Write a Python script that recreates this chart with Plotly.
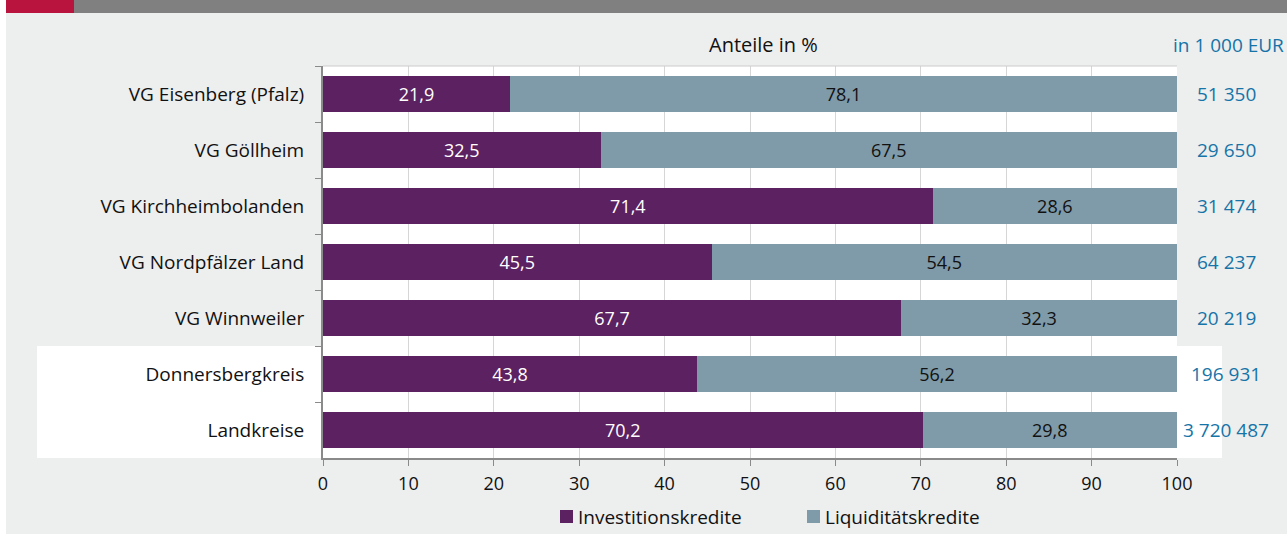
import plotly.graph_objects as go

# Data
categories = ["VG Eisenberg (Pfalz)", "VG Göllheim", "VG Kirchheimbolanden",
              "VG Nordpfälzer Land", "VG Winnweiler", "Donnersbergkreis", "Landkreise"]
series_names = ["Investitionskredite", "Liquiditätskredite"]
investitionskredite = [21.9, 32.5, 71.4, 45.5, 67.7, 43.8, 70.2]
liquiditaetskredite = [78.1, 67.5, 28.6, 54.5, 32.3, 56.2, 29.8]
totals_teur = ["51 350", "29 650", "31 474", "64 237", "20 219", "196 931", "3 720 487"]
x_ticks = [0, 10, 20, 30, 40, 50, 60, 70, 80, 90, 100]

FONT = "Open Sans"
TXT = "#111111"
PURPLE = "#5B2160"
GREYBLUE = "#7F9AA8"
BLUE_TXT = "#1574A8"
BG = "#EDEEEE"

# Figure geometry (pixels)
W, H = 1287, 534
L, R, T, B = 323, 1177, 66, 458


def px(x):
    return (x - L) / (R - L)


def py(y):
    return (B - y) / (B - T)


def fmt(v):
    return f"{v:.1f}".replace(".", ",")


fig = go.Figure()
fig.add_trace(go.Bar(
    y=categories, x=investitionskredite, orientation="h", name=series_names[0],
    marker=dict(color=PURPLE, line=dict(width=0)),
    text=[fmt(v) for v in investitionskredite], textposition="inside",
    insidetextanchor="middle", textfont=dict(color="white", size=18, family=FONT),
    hoverinfo="skip", showlegend=False,
))
fig.add_trace(go.Bar(
    y=categories, x=liquiditaetskredite, orientation="h", name=series_names[1],
    marker=dict(color=GREYBLUE, line=dict(width=0)),
    text=[fmt(v) for v in liquiditaetskredite], textposition="inside",
    insidetextanchor="middle", textfont=dict(color=TXT, size=18, family=FONT),
    hoverinfo="skip", showlegend=False,
))

shapes = [
    # white strip at the left edge
    dict(type="rect", xref="paper", yref="paper", x0=px(0), x1=px(6), y0=py(H + 20), y1=py(0),
         fillcolor="white", line=dict(width=0), layer="below"),
    # header bars
    dict(type="rect", xref="paper", yref="paper", x0=px(6), x1=px(74), y0=py(13), y1=py(-5),
         fillcolor="#B8143E", line=dict(width=0), layer="below"),
    dict(type="rect", xref="paper", yref="paper", x0=px(74), x1=px(W + 10), y0=py(13), y1=py(-5),
         fillcolor="#808080", line=dict(width=0), layer="below"),
    # white highlight behind the two county rows
    dict(type="rect", xref="paper", yref="paper", x0=px(37), x1=px(1222), y0=py(458), y1=py(346),
         fillcolor="white", line=dict(width=0), layer="below"),
    # thin top border of the plot area
    dict(type="line", xref="paper", yref="paper", x0=0, x1=1, y0=1, y1=1,
         line=dict(color="#CCCCCC", width=1)),
]

annotations = [
    dict(text="Anteile in %", xref="paper", yref="paper", x=px(763), y=py(45),
         showarrow=False, font=dict(size=20, color=TXT, family=FONT),
         xanchor="center", yanchor="middle"),
    dict(text="in 1 000 EUR", xref="paper", yref="paper", x=px(1286), y=py(45),
         showarrow=False, font=dict(size=19, color=BLUE_TXT, family=FONT),
         xanchor="right", yanchor="middle"),
]
for cat, tot in zip(categories, totals_teur):
    annotations.append(dict(text=tot, xref="paper", yref="y", x=px(1226), y=cat,
                            showarrow=False, font=dict(size=19, color=BLUE_TXT, family=FONT),
                            xanchor="center", yanchor="middle"))

# legend: colour square followed by the series name
legend_items = [(series_names[0], PURPLE, 560), (series_names[1], GREYBLUE, 807)]
for name, color, x0 in legend_items:
    shapes.append(dict(type="rect", xref="paper", yref="paper",
                       x0=px(x0), x1=px(x0 + 13), y0=py(523), y1=py(510),
                       fillcolor=color, line=dict(width=0)))
    annotations.append(dict(text=name, xref="paper", yref="paper", x=px(x0 + 16), y=py(517),
                            showarrow=False, font=dict(size=19, color=TXT, family=FONT),
                            xanchor="left", yanchor="middle"))

fig.update_layout(
    width=W, height=H,
    margin=dict(l=L, r=W - R, t=T, b=H - B, pad=0, autoexpand=False),
    paper_bgcolor=BG, plot_bgcolor="white",
    barmode="stack", bargap=0.34,
    font=dict(family=FONT, size=18, color=TXT),
    shapes=shapes, annotations=annotations,
    showlegend=False,
    uniformtext=dict(mode=False),
)
fig.update_xaxes(
    range=[0, 100], tickvals=x_ticks, ticktext=[str(t) for t in x_ticks],
    showgrid=True, gridcolor="#D6D6D6", gridwidth=1,
    showline=True, linecolor="#8A8A8A", linewidth=2,
    ticks="outside", ticklen=6, tickcolor="#8A8A8A", tickwidth=1,
    tickfont=dict(size=18, family=FONT, color=TXT), zeroline=False, fixedrange=True,
    ticklabelstandoff=2, automargin=False,
)
fig.update_yaxes(
    categoryorder="array", categoryarray=categories, autorange="reversed",
    showline=True, linecolor="#8A8A8A", linewidth=2,
    ticks="outside", tickson="boundaries", ticklen=6, tickcolor="#8A8A8A", tickwidth=1,
    tickfont=dict(size=19, family=FONT, color=TXT), showgrid=False,
    ticklabelstandoff=13, fixedrange=True, automargin=False,
)

fig.write_html("out.html")
